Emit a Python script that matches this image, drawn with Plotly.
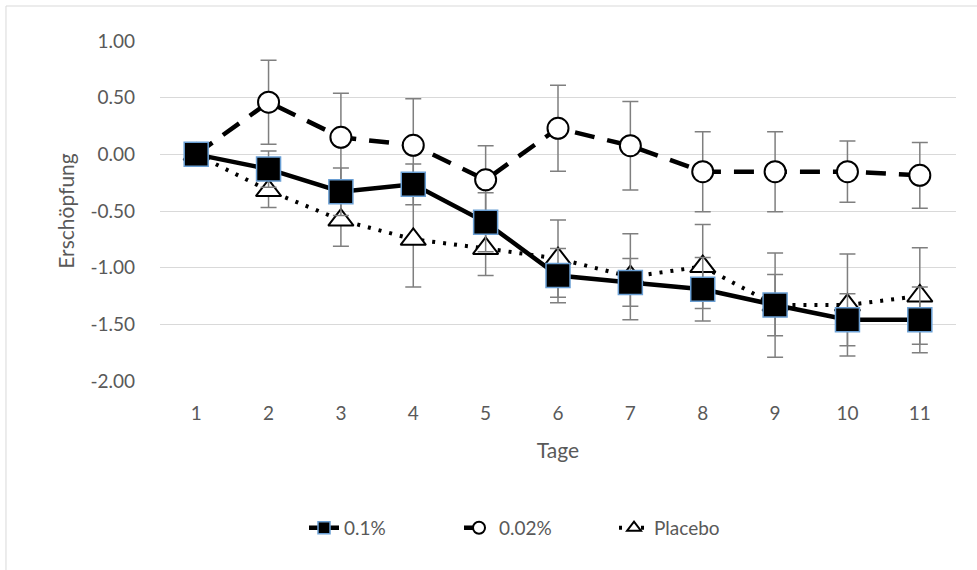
import plotly.graph_objects as go

days = [1, 2, 3, 4, 5, 6, 7, 8, 9, 10, 11]
x_tick_labels = ["1", "2", "3", "4", "5", "6", "7", "8", "9", "10", "11"]
y_tick_vals = [1.0, 0.5, 0.0, -0.5, -1.0, -1.5, -2.0]
y_tick_labels = ["1.00", "0.50", "0.00", "-0.50", "-1.00", "-1.50", "-2.00"]

v_01 = [0.0, -0.13, -0.33, -0.265, -0.60, -1.07, -1.13, -1.19, -1.33, -1.46, -1.46]
e_01 = [0.0, 0.16, 0.21, 0.18, 0.26, 0.24, 0.21, 0.28, 0.27, 0.23, 0.29]

v_002 = [0.0, 0.46, 0.15, 0.08, -0.225, 0.23, 0.076, -0.153, -0.153, -0.153, -0.185]
e_002 = [0.0, 0.37, 0.39, 0.41, 0.30, 0.38, 0.39, 0.353, 0.353, 0.27, 0.29]

v_pl = [0.0, -0.32, -0.58, -0.75, -0.83, -0.92, -1.08, -0.99, -1.33, -1.33, -1.25]
e_pl = [0.0, 0.15, 0.23, 0.42, 0.24, 0.34, 0.38, 0.37, 0.46, 0.45, 0.425]

FONT = "Lato"
GRAY = "#595959"
ERR = dict(type="data", visible=True, color="#7f7f7f", thickness=1.5, width=8)

styles = {
    "Placebo": dict(line=dict(color="black", width=4, dash="3px,8px"),
                    symbol="triangle-up", mcolor="white", mline=dict(color="black", width=2), size=22),
    "0.02%": dict(line=dict(color="black", width=4.5, dash="20px,13px"),
                  symbol="circle", mcolor="white", mline=dict(color="black", width=2), size=21),
    "0.1%": dict(line=dict(color="black", width=4.5),
                 symbol="square", mcolor="black", mline=dict(color="#6a9fd4", width=1.5), size=24),
}

series = [("Placebo", v_pl, e_pl), ("0.02%", v_002, e_002), ("0.1%", v_01, e_01)]

fig = go.Figure()
for name, vals, errs in series:
    s = styles[name]
    fig.add_trace(go.Scatter(
        x=days, y=vals, name=name, mode="lines+markers", showlegend=False,
        line=s["line"],
        marker=dict(symbol=s["symbol"], size=s["size"], color=s["mcolor"], line=s["mline"]),
        error_y=dict(array=errs, **ERR),
    ))

# legend-only entries (smaller markers like the reference legend)
for name in ["0.1%", "0.02%", "Placebo"]:
    s = styles[name]
    fig.add_trace(go.Scatter(
        x=[None], y=[None], name=name, mode="lines+markers", showlegend=True,
        line=s["line"],
        marker=dict(symbol=s["symbol"], size=12, color=s["mcolor"], line=s["mline"]),
    ))

fig.update_layout(
    width=977, height=570,
    margin=dict(l=160, r=21, t=41, b=189),
    paper_bgcolor="white", plot_bgcolor="white",
    font=dict(family=FONT, size=19, color=GRAY),
    showlegend=True,
    legend=dict(orientation="h", x=0.473, xanchor="center",
                y=-0.432, yanchor="middle", font=dict(family=FONT, size=19, color=GRAY),
                entrywidth=110, entrywidthmode="pixels"),
    xaxis=dict(range=[0.5, 11.5], tickmode="array", tickvals=days, ticktext=x_tick_labels,
               showgrid=False, zeroline=False, showline=False, ticks="",
               ticklabelstandoff=19,
               title=dict(text="Tage", standoff=20, font=dict(family=FONT, size=21, color=GRAY))),
    yaxis=dict(range=[-2.0, 1.0], tickmode="array", tickvals=y_tick_vals, ticktext=y_tick_labels,
               showgrid=True, gridcolor="#d9d9d9", gridwidth=1,
               zeroline=False, showline=False, ticks="",
               ticklabelstandoff=24,
               title=dict(text="Erschöpfung", standoff=10, font=dict(family=FONT, size=21, color=GRAY))),
    shapes=[dict(type="rect", xref="paper", yref="paper",
                 x0=-0.1935, x1=1.2, y0=-0.8, y1=1.1029,
                 line=dict(color="#d9d9d9", width=1), fillcolor="rgba(0,0,0,0)", layer="below")],
)

fig.write_html("out.html")
